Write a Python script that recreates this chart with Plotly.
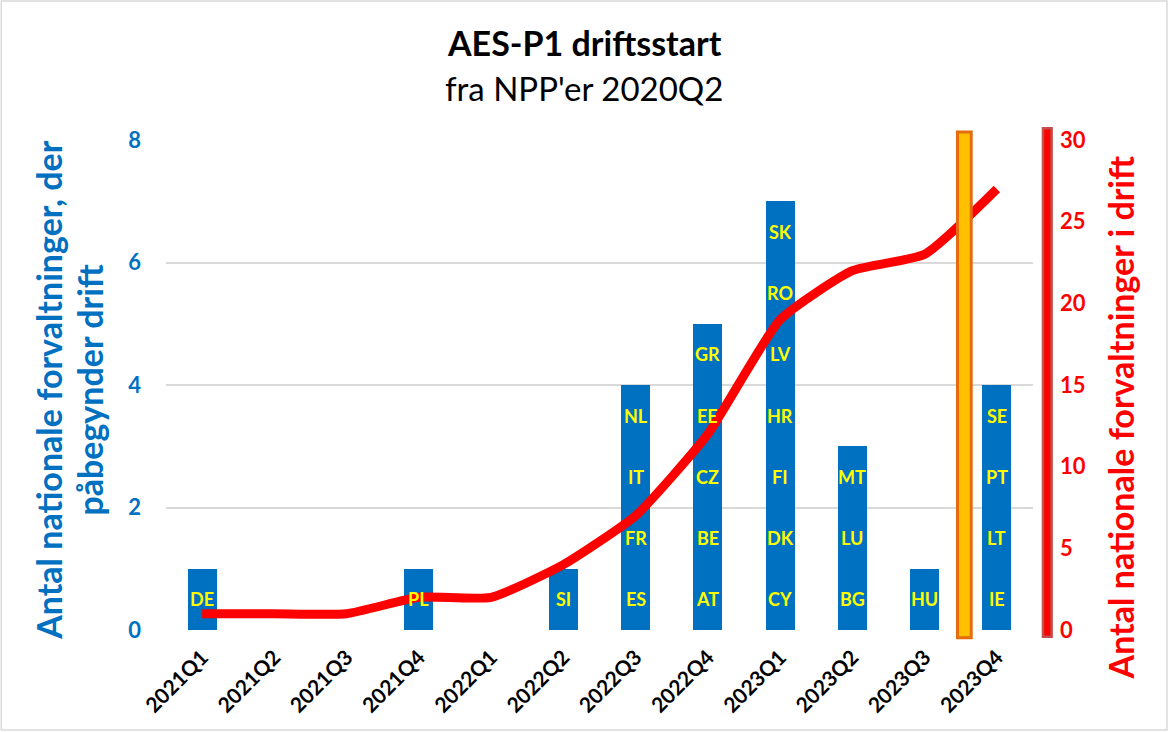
import plotly.graph_objects as go

quarters = ["2021Q1", "2021Q2", "2021Q3", "2021Q4", "2022Q1", "2022Q2",
            "2022Q3", "2022Q4", "2023Q1", "2023Q2", "2023Q3", "2023Q4"]
countries = [
    ["DE"], [], [], ["PL"], [], ["SI"],
    ["ES", "FR", "IT", "NL"],
    ["AT", "BE", "CZ", "EE", "GR"],
    ["CY", "DK", "FI", "HR", "LV", "RO", "SK"],
    ["BG", "LU", "MT"],
    ["HU"],
    ["IE", "LT", "PT", "SE"],
]
in_operation = [1, 1, 1, 2, 2, 4, 7, 12, 19, 22, 23, 27]
marker_pos = 10.55  # vertical marker between 2023Q3 and 2023Q4

FONT = "Lato"
BLUE = "#0070C0"
RED = "#FF0000"

fig = go.Figure()
max_level = max(len(c) for c in countries)
label_annotations = []
for lvl in range(max_level):
    ys = [1 if len(c) > lvl else None for c in countries]
    fig.add_trace(go.Bar(
        x=quarters, y=ys,
        marker=dict(color=BLUE, line=dict(width=0)),
        showlegend=False, yaxis="y", hoverinfo="skip",
    ))
    for q, c in zip(quarters, countries):
        if len(c) > lvl:
            label_annotations.append(dict(
                text="<b>%s</b>" % c[lvl], x=q, y=lvl + 0.5, xref="x", yref="y",
                showarrow=False, xanchor="center", yanchor="middle",
                font=dict(family=FONT, size=18, color="#FFFF00"),
            ))

fig.add_trace(go.Scatter(
    x=quarters, y=in_operation, mode="lines",
    line=dict(color=RED, width=9, shape="spline", smoothing=0.5),
    yaxis="y2", showlegend=False,
))

fig.update_layout(
    width=1169, height=732,
    margin=dict(l=166, r=136, t=140, b=102),
    paper_bgcolor="white", plot_bgcolor="white",
    barmode="stack", bargap=0.6,
    font=dict(family=FONT),
    xaxis=dict(
        type="category", tickangle=-45, showgrid=False,
        tickfont=dict(family=FONT, size=21, color="black", weight="bold"),
        ticks="", showline=False, ticklabelstandoff=10,
    ),
    yaxis=dict(
        range=[0, 8], dtick=2, showgrid=True, gridcolor="#D9D9D9", gridwidth=1.5,
        zeroline=False, showline=False, ticks="",
        tickfont=dict(family=FONT, size=22, color=BLUE, weight="bold"),
        ticklabelstandoff=24,
    ),
    yaxis2=dict(
        range=[0, 30], dtick=5, overlaying="y", side="right", showgrid=False,
        zeroline=False, showline=False, ticks="",
        tickfont=dict(family=FONT, size=22, color=RED, weight="bold"),
        ticklabelstandoff=26,
    ),
    shapes=[
        dict(type="rect", xref="x", yref="paper",
             x0=marker_pos - 0.095, x1=marker_pos + 0.095, y0=-0.016, y1=1.0165,
             fillcolor="#FFC000", line=dict(color="#E46C0A", width=3), layer="above"),
        dict(type="rect", xref="paper", yref="paper",
             x0=1.0115, x1=1.0215, y0=-0.014, y1=1.024,
             fillcolor=RED, line=dict(color="#C0504D", width=2.5), layer="above"),
        dict(type="rect", xref="paper", yref="paper",
             x0=-0.190, x1=1.1545, y0=-0.204, y1=1.2837,
             fillcolor="rgba(0,0,0,0)", line=dict(color="#D9D9D9", width=1.5)),
    ],
    annotations=label_annotations + [
        dict(text="<b>AES-P1 driftsstart</b>", xref="paper", yref="paper",
             x=0.4825, y=1.198, xanchor="center", yanchor="middle", showarrow=False,
             font=dict(family=FONT, size=34, color="black")),
        dict(text="fra NPP'er 2020Q2", xref="paper", yref="paper",
             x=0.4825, y=1.106, xanchor="center", yanchor="middle", showarrow=False,
             font=dict(family=FONT, size=33, color="black")),
        dict(text="<b>Antal nationale forvaltninger, der</b>", xref="paper", yref="paper",
             x=-0.135, y=0.49, xanchor="center", yanchor="middle",
             textangle=-90, showarrow=False,
             font=dict(family=FONT, size=34, color=BLUE)),
        dict(text="<b>påbegynder drift</b>", xref="paper", yref="paper",
             x=-0.088, y=0.49, xanchor="center", yanchor="middle",
             textangle=-90, showarrow=False,
             font=dict(family=FONT, size=34, color=BLUE)),
        dict(text="<b>Antal nationale forvaltninger i drift</b>", xref="paper", yref="paper",
             x=1.101, y=0.433, xanchor="center", yanchor="middle",
             textangle=-90, showarrow=False,
             font=dict(family=FONT, size=34, color=RED)),
    ],
)

fig.write_html("out.html", config={"displayModeBar": False},
               post_script="document.body.style.margin='0';")
